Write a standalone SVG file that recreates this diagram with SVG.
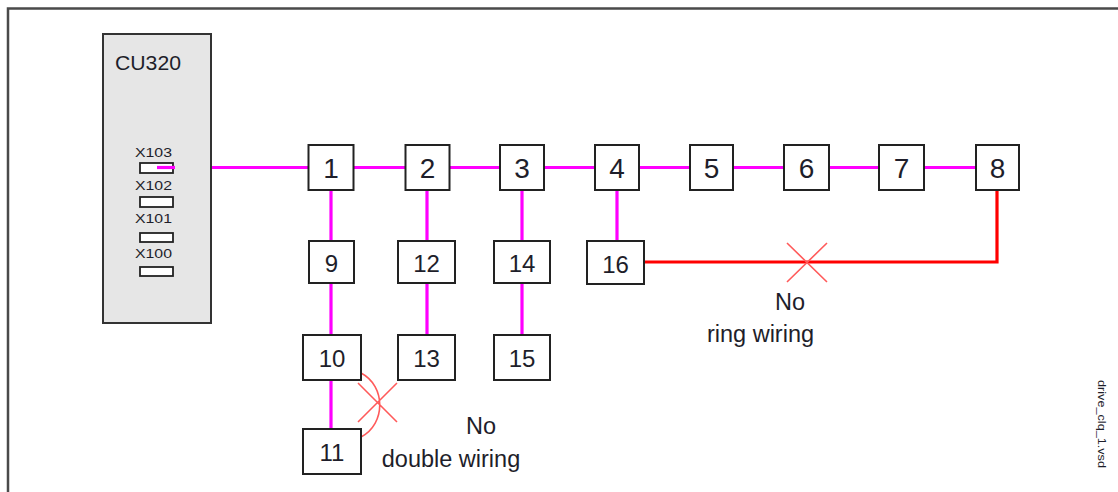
<svg xmlns="http://www.w3.org/2000/svg" width="1118" height="492" viewBox="0 0 1118 492">
<style>
text{font-family:"Liberation Sans",Arial,sans-serif;fill:#1e1e2a}
.box{fill:#fff;stroke:#222;stroke-width:2}
.n1{font-size:28px;text-anchor:middle}
.n2{font-size:24px;text-anchor:middle}
.port{fill:#fff;stroke:#222;stroke-width:1.8}
.pl{font-size:12.5px}
.mg{stroke:#ff00ff;stroke-width:3.2;fill:none}
.rd{stroke:#ff0000;stroke-width:3.2;fill:none}
.xx{stroke:#ff5a5a;stroke-width:1.6;fill:none}
.note{font-size:23.5px;text-anchor:middle}
</style>
<rect width="1118" height="492" fill="#fff"/>
<path d="M8 492 V8.5 H1118" fill="none" stroke="#4a4a4a" stroke-width="2.5"/>

<g id="connectors">
<path class="mg" d="M157 167.5 H308 M354 167.5 H406 M449 167.5 H500 M544 167.5 H595 M639 167.5 H690 M733 167.5 H784 M829 167.5 H879 M924 167.5 H976"/>
<path class="mg" d="M331 190 V241 M331 283 V335 M331 380 V429 M427 190 V241 M427 283 V335 M522 190 V241 M522 283 V335 M617 190 V241"/>
<path class="rd" d="M644 262 H997 V190"/>
<path class="xx" d="M787 243 L827 282 M827 243 L787 282"/>
<path class="xx" d="M361 373 C386 386 386 424 361 437 M358 383 L397 422 M397 383 L358 422"/>
</g>

<g id="cu320">
<rect x="103" y="34" width="108" height="289" fill="#e6e6e6" stroke="#333" stroke-width="2"/>
<text x="115" y="69.5" font-size="20" textLength="66" lengthAdjust="spacingAndGlyphs">CU320</text>
<text class="pl" x="135" y="157" textLength="37" lengthAdjust="spacingAndGlyphs">X103</text>
<rect class="port" x="140" y="163" width="33" height="10"/>
<text class="pl" x="135" y="190" textLength="37" lengthAdjust="spacingAndGlyphs">X102</text>
<rect class="port" x="140" y="197" width="33" height="10"/>
<text class="pl" x="135" y="223" textLength="37" lengthAdjust="spacingAndGlyphs">X101</text>
<rect class="port" x="140" y="233" width="33" height="9"/>
<text class="pl" x="135" y="258" textLength="37" lengthAdjust="spacingAndGlyphs">X100</text>
<rect class="port" x="140" y="267" width="33" height="9"/>
<path class="mg" d="M157 167.5 H175"/>
</g>

<g id="n1"><rect class="box" x="308.5" y="145" width="45" height="45"/><text class="n1" x="331" y="177.5">1</text></g>
<g id="n2"><rect class="box" x="405.5" y="145" width="44" height="45"/><text class="n1" x="427.5" y="177.5">2</text></g>
<g id="n3"><rect class="box" x="500" y="145" width="44" height="45"/><text class="n1" x="522" y="177.5">3</text></g>
<g id="n4"><rect class="box" x="595" y="145" width="44" height="45"/><text class="n1" x="617" y="177.5">4</text></g>
<g id="n5"><rect class="box" x="690" y="145" width="43" height="45"/><text class="n1" x="711.5" y="177.5">5</text></g>
<g id="n6"><rect class="box" x="784" y="145" width="45" height="45"/><text class="n1" x="806.5" y="177.5">6</text></g>
<g id="n7"><rect class="box" x="879" y="145" width="45" height="45"/><text class="n1" x="901.5" y="177.5">7</text></g>
<g id="n8"><rect class="box" x="976" y="145" width="43" height="45"/><text class="n1" x="997.5" y="177.5">8</text></g>

<g id="n9"><rect class="box" x="309" y="241" width="45" height="42"/><text class="n2" x="331.5" y="272">9</text></g>
<g id="n12"><rect class="box" x="398" y="241" width="57" height="42"/><text class="n2" x="426.5" y="272">12</text></g>
<g id="n14"><rect class="box" x="494" y="241" width="56" height="42"/><text class="n2" x="522" y="272">14</text></g>
<g id="n16"><rect class="box" x="587" y="241" width="57" height="43"/><text class="n2" x="615.5" y="272.5">16</text></g>

<g id="n10"><rect class="box" x="303" y="335" width="58" height="45"/><text class="n2" x="332" y="366.5">10</text></g>
<g id="n13"><rect class="box" x="398" y="335" width="57" height="45"/><text class="n2" x="426.5" y="366.5">13</text></g>
<g id="n15"><rect class="box" x="494" y="335" width="56" height="45"/><text class="n2" x="522" y="366.5">15</text></g>
<g id="n11"><rect class="box" x="303" y="429" width="58" height="45"/><text class="n2" x="332" y="460.5">11</text></g>

<g id="notes">
<text class="note" x="790" y="310">No</text>
<text class="note" x="760.5" y="342">ring wiring</text>
<text class="note" x="481" y="434">No</text>
<text class="note" x="451" y="467">double wiring</text>
<text x="1098" y="380" font-size="10" transform="rotate(90 1098 380)" textLength="88" lengthAdjust="spacingAndGlyphs">drive_clq_1.vsd</text>
</g>
</svg>
